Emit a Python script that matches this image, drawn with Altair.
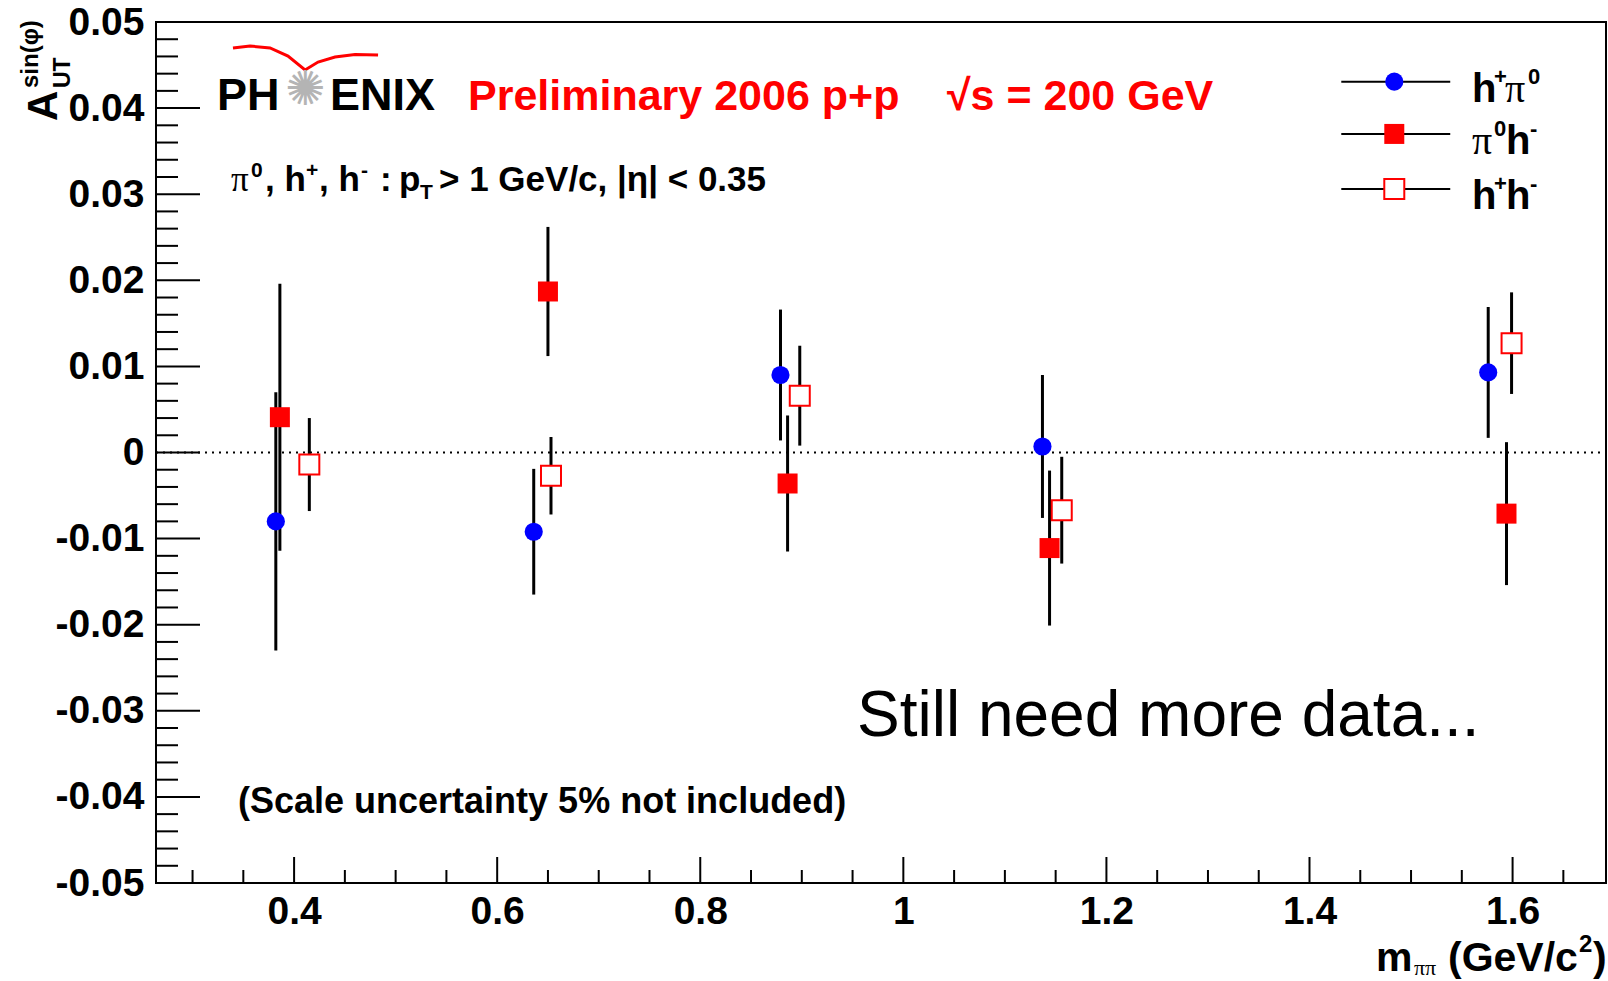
import altair as alt
import pandas as pd

# ---------------- data ----------------
series = ["h+pi0", "pi0h-", "h+h-"]

x_hpi0 = [0.382, 0.636, 0.879, 1.137, 1.576]
y_hpi0 = [-0.0080, -0.0092, 0.0090, 0.0007, 0.0093]
e_hpi0 = [0.0150, 0.0073, 0.0076, 0.0083, 0.0076]

x_pih = [0.386, 0.650, 0.886, 1.144, 1.594]
y_pih = [0.0041, 0.0187, -0.0036, -0.0111, -0.0071]
e_pih = [0.0155, 0.0075, 0.0079, 0.0090, 0.0083]

x_hh = [0.415, 0.653, 0.898, 1.156, 1.599]
y_hh = [-0.0014, -0.0027, 0.0066, -0.0067, 0.0127]
e_hh = [0.0054, 0.0045, 0.0058, 0.0062, 0.0059]

x_major = [0.4, 0.6, 0.8, 1.0, 1.2, 1.4, 1.6]
x_minor = [0.30, 0.35, 0.45, 0.50, 0.55, 0.65, 0.70, 0.75, 0.85, 0.90, 0.95,
           1.05, 1.10, 1.15, 1.25, 1.30, 1.35, 1.45, 1.50, 1.55, 1.65]
y_major = [-0.05, -0.04, -0.03, -0.02, -0.01, 0.0, 0.01, 0.02, 0.03, 0.04, 0.05]
y_minor = [round(-0.05 + 0.002 * i, 3) for i in range(51) if i % 5 != 0]
zero_line = [0.0]

# legend rows (data units)
legend_y = [0.04307, 0.0370, 0.0306]
legend_x0, legend_x1, legend_xm = 1.4313, 1.5386, 1.4835

# PHENIX logo swoosh (data units)
logo_x = [0.3398, 0.3566, 0.3763, 0.3940, 0.4108, 0.4236, 0.4403, 0.4600, 0.4827]
logo_y = [0.04698, 0.04721, 0.04698, 0.04605, 0.04443, 0.04535, 0.04593, 0.04623, 0.04617]

# ---------------- layout ----------------
W, H = 1450, 861
X0, Y0 = 156, 22
XDOM = [0.264, 1.692]
YDOM = [-0.05, 0.05]
FONT = "Liberation Sans, Arial, DejaVu Sans"
SERIF = "Liberation Serif, Times New Roman, serif"

xscale = alt.Scale(domain=XDOM, nice=False, zero=False)
yscale = alt.Scale(domain=YDOM, nice=False, zero=False)

xaxis = alt.Axis(values=x_major, labelExpr="format(datum.value, '~g')",
                 ticks=False, tickSize=0, domain=False, grid=False,
                 labelFont=FONT, labelFontSize=39, labelFontWeight="bold",
                 labelColor="black", labelPadding=9, labelFlush=False,
                 labelOverlap=False, labelBaseline="top")
yaxis = alt.Axis(values=y_major,
                 labelExpr="datum.value == 0 ? '0' : (datum.value < 0 ? '-' : '') + format(abs(datum.value), '.2f')",
                 ticks=False, tickSize=0, domain=False, grid=False,
                 labelFont=FONT, labelFontSize=39, labelFontWeight="bold",
                 labelColor="black", labelPadding=12, labelFlush=False,
                 labelOverlap=False)


def ex(f):
    return alt.X(f"{f}:Q", scale=xscale, axis=xaxis, title=None)


def ey(f):
    return alt.Y(f"{f}:Q", scale=yscale, axis=yaxis, title=None)


def frame(xs, ys, es, name):
    return pd.DataFrame({"x": xs, "y": ys,
                         "lo": [a - b for a, b in zip(ys, es)],
                         "hi": [a + b for a, b in zip(ys, es)],
                         "s": name})


d_hpi0 = frame(x_hpi0, y_hpi0, e_hpi0, series[0])
d_pih = frame(x_pih, y_pih, e_pih, series[1])
d_hh = frame(x_hh, y_hh, e_hh, series[2])
d_all = pd.concat([d_hpi0, d_pih, d_hh], ignore_index=True)

layers = []

# zero dotted line
layers.append(alt.Chart(pd.DataFrame({"y": zero_line})).mark_rule(
    color="black", strokeWidth=2, strokeDash=[2, 5]).encode(
    y=ey("y"), x=alt.value(0), x2=alt.value(W)))

# ticks (inward, ROOT style)
layers.append(alt.Chart(pd.DataFrame({"v": y_major})).mark_rule(
    color="black", strokeWidth=2).encode(y=ey("v"), x=alt.value(0), x2=alt.value(44)))
layers.append(alt.Chart(pd.DataFrame({"v": y_minor})).mark_rule(
    color="black", strokeWidth=2).encode(y=ey("v"), x=alt.value(0), x2=alt.value(22)))
layers.append(alt.Chart(pd.DataFrame({"v": x_major})).mark_rule(
    color="black", strokeWidth=2).encode(x=ex("v"), y=alt.value(H), y2=alt.value(H - 26)))
layers.append(alt.Chart(pd.DataFrame({"v": x_minor})).mark_rule(
    color="black", strokeWidth=2).encode(x=ex("v"), y=alt.value(H), y2=alt.value(H - 13)))

# error bars
layers.append(alt.Chart(d_all).mark_rule(color="black", strokeWidth=3).encode(
    x=ex("x"), y=ey("lo"), y2=alt.Y2("hi:Q")))

# markers
layers.append(alt.Chart(d_hpi0).mark_point(shape="circle", filled=True, color="#0000ff",
                                           size=330, opacity=1).encode(x=ex("x"), y=ey("y")))
layers.append(alt.Chart(d_pih).mark_point(shape="square", filled=True, color="#ff0000",
                                          size=400, opacity=1).encode(x=ex("x"), y=ey("y")))
layers.append(alt.Chart(d_hh).mark_point(shape="square", filled=True, fill="white",
                                         stroke="#ff0000", strokeWidth=2, size=400,
                                         opacity=1).encode(x=ex("x"), y=ey("y")))

# legend symbols
leg = pd.DataFrame({"y": legend_y, "x0": legend_x0, "x1": legend_x1, "xm": legend_xm,
                    "s": series})
layers.append(alt.Chart(leg).mark_rule(color="black", strokeWidth=2).encode(
    x=ex("x0"), x2=alt.X2("x1:Q"), y=ey("y")))
layers.append(alt.Chart(leg[leg.s == series[0]]).mark_point(
    shape="circle", filled=True, color="#0000ff", size=330, opacity=1).encode(x=ex("xm"), y=ey("y")))
layers.append(alt.Chart(leg[leg.s == series[1]]).mark_point(
    shape="square", filled=True, color="#ff0000", size=400, opacity=1).encode(x=ex("xm"), y=ey("y")))
layers.append(alt.Chart(leg[leg.s == series[2]]).mark_point(
    shape="square", filled=True, fill="white", stroke="#ff0000", strokeWidth=2, size=400,
    opacity=1).encode(x=ex("xm"), y=ey("y")))

# PHENIX logo swoosh
layers.append(alt.Chart(pd.DataFrame({"x": logo_x, "y": logo_y})).mark_line(
    color="#ff0000", strokeWidth=3).encode(x=ex("x"), y=ey("y")))


def txt(text, px, py, size, color="black", weight="bold", align="left",
        baseline="alphabetic", font=FONT, angle=0):
    kw = dict(align=align, baseline=baseline, font=font, fontSize=size,
              fontWeight=weight, color=color)
    if angle:
        kw["angle"] = angle
    return alt.Chart(pd.DataFrame({"t": [text]})).mark_text(**kw).encode(
        x=alt.value(px - X0), y=alt.value(py - Y0), text="t:N")


# legend labels (main text + superscripts)
layers.append(txt("h", 1472, 101.7, 40))
layers.append(txt("+", 1494, 84, 22))
layers.append(txt("\u03c0", 1505, 101.7, 40, weight="normal", font=SERIF))
layers.append(txt("0", 1528, 84, 22))

layers.append(txt("\u03c0", 1472, 154, 40, weight="normal", font=SERIF))
layers.append(txt("0", 1494, 136, 22))
layers.append(txt("h", 1506, 154, 40))
layers.append(txt("-", 1530, 136, 22))

layers.append(txt("h", 1472, 209, 40))
layers.append(txt("+", 1494, 191, 22))
layers.append(txt("h", 1506, 209, 40))
layers.append(txt("-", 1530, 191, 22))

# logo text
layers.append(txt("PH", 217, 110, 45))
layers.append(txt("\u273a", 305, 91, 48, color="#b4b4b4", weight="normal",
                  align="center", baseline="middle", font="DejaVu Sans"))
layers.append(txt("ENIX", 330, 110, 45))
layers.append(txt("Preliminary 2006 p+p", 468, 110, 43, color="#ff0000"))
layers.append(txt("\u221as = 200 GeV", 947, 110, 43, color="#ff0000"))

# cut text pieces
layers.append(txt("\u03c0", 231, 191, 35, weight="normal", font=SERIF))
layers.append(txt("0", 251, 177, 21))
layers.append(txt(", h", 265, 191, 35))
layers.append(txt("+", 306, 177, 21))
layers.append(txt(", h", 319, 191, 35))
layers.append(txt("-", 361, 177, 21))
layers.append(txt(":", 380, 191, 35))
layers.append(txt("p", 399, 191, 35))
layers.append(txt("T", 420, 199, 21))
layers.append(txt("> 1 GeV/c, |\u03b7| < 0.35", 439, 191, 35))

layers.append(txt("(Scale uncertainty 5% not included)", 238, 813, 36))
layers.append(txt("Still need more data...", 857, 736, 64, weight="normal"))

# y axis title (rotated)
layers.append(txt("A", 57, 121, 42, angle=270))
layers.append(txt("UT", 70, 88, 23, angle=270))
layers.append(txt("sin(\u03c6)", 38, 88, 24, angle=270))

# x axis title
layers.append(txt("m", 1376, 971, 41))
layers.append(txt("\u03c0\u03c0", 1414, 975, 22, weight="normal", font=SERIF))
layers.append(txt("(GeV/c", 1448, 971, 41))
layers.append(txt("2", 1579, 952, 24))
layers.append(txt(")", 1593, 971, 41))

chart = alt.layer(*layers).properties(
    width=W, height=H,
    padding={"left": X0, "top": Y0, "right": 1608 - X0 - W, "bottom": 981 - Y0 - H},
    autosize=alt.AutoSizeParams(type="none"),
    background="white",
).configure_view(stroke="black", strokeWidth=2)

chart.save("out.html", embed_options={"renderer": "svg", "actions": False})
